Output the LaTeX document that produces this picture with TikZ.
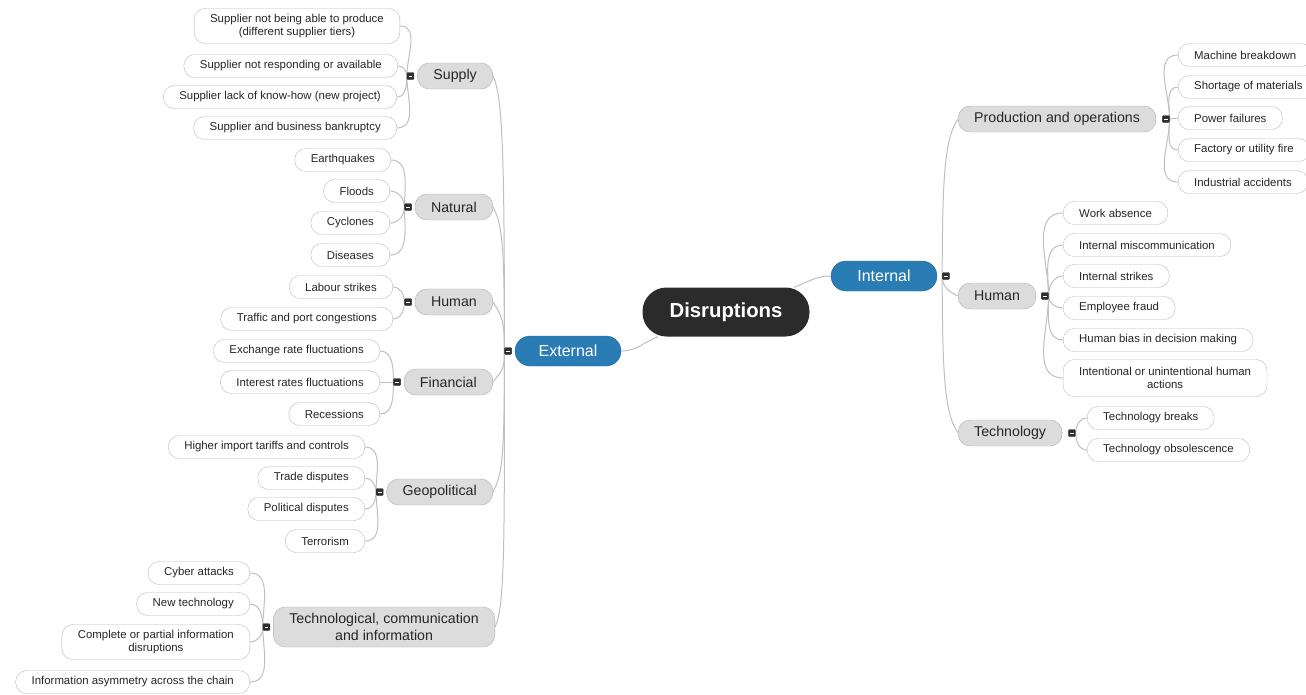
\documentclass[tikz,border=0pt]{standalone}
\usepackage{fontspec}
\setmainfont{Liberation Sans}
\usetikzlibrary{positioning,backgrounds}

\definecolor{rootgray}{HTML}{2B2B2B}
\definecolor{branchblue}{HTML}{2A7DB4}
\definecolor{topicgray}{HTML}{DCDCDC}
\definecolor{topicline}{HTML}{B0B0B0}
\definecolor{leafline}{HTML}{BABABA}
\definecolor{linkgray}{HTML}{BFBFBF}

\tikzset{
    root/.style={rectangle, rounded corners=24pt, fill=rootgray, text=white,
        font=\fontsize{20.3}{24}\selectfont\bfseries, minimum width=167pt, minimum height=49pt},
    branch/.style={rectangle, rounded corners=15pt, fill=branchblue, draw=branchblue!85!black,
        text=white, font=\fontsize{16}{19}\selectfont, minimum width=106pt, minimum height=30pt},
    topic/.style={rectangle, rounded corners=12pt, fill=topicgray, draw=topicline, text=black!85,
        font=\fontsize{14.2}{17}\selectfont, minimum height=26pt, inner xsep=16pt, align=center},
    leaf/.style={rectangle, rounded corners=11pt, fill=white, draw=leafline, text=black!85,
        font=\fontsize{11.4}{13.5}\selectfont, minimum height=23pt, inner xsep=16pt, inner ysep=2pt, align=center},
    handle/.style={rectangle, rounded corners=1pt, fill=black!82, draw=black!82, minimum size=7pt, inner sep=0pt,
        path picture={\draw[white, line width=0.6pt] ([xshift=-1.8pt]path picture bounding box.center) -- ([xshift=1.8pt]path picture bounding box.center);}},
    link/.style={draw=linkgray, line width=1pt},
}

\begin{document}
\begin{tikzpicture}[x=1pt, y=-1pt]
        \useasboundingbox (0,0) rectangle (1306,694);
        %\draw[color=lightgray] (0,0) grid[step=50] (1306,694);

        % centre and the two branches
        \node[root] (dis) at (726,312) {Disruptions};
        \node[branch] (ext) at (568,351) {External};
        \node[branch] (int) at (884,276) {Internal};
        \node[handle, left=3pt of ext] (ext-h) {};
        \node[handle, right=5pt of int] (int-h) {};

        % external topics
        \node[topic, anchor=east] (supply) at (493,76) {Supply};
        \node[topic, anchor=east] (natural) at (493,207) {Natural};
        \node[topic, anchor=east] (hum-ext) at (493,302) {Human};
        \node[topic, anchor=east] (financial) at (493,382) {Financial};
        \node[topic, anchor=east] (geo) at (493,492) {Geopolitical};
        \node[topic, anchor=east, minimum height=40pt] (tech-ext) at (495,627) {Technological, communication\\and information};
        \node[handle, left=3pt of supply] (supply-h) {};
        \node[handle, left=3pt of natural] (natural-h) {};
        \node[handle, left=3pt of hum-ext] (hum-ext-h) {};
        \node[handle, left=3pt of financial] (financial-h) {};
        \node[handle, left=3pt of geo] (geo-h) {};
        \node[handle, left=3pt of tech-ext] (tech-ext-h) {};

        % internal topics
        \node[topic, anchor=west] (prod) at (958,119) {Production and operations};
        \node[topic, anchor=west] (hum-int) at (958,296) {Human};
        \node[topic, anchor=west] (tech-int) at (958,433) {Technology};
        \node[handle, right=6pt of prod] (prod-h) {};
        \node[handle, right=5pt of hum-int] (hum-int-h) {};
        \node[handle, right=6pt of tech-int] (tech-int-h) {};

        % supply
        \node[leaf, anchor=east, minimum height=35pt] (sup1) at (400,26) {Supplier not being able to produce\\(different supplier tiers)};
        \node[leaf, anchor=east] (sup2) at (398,66) {Supplier not responding or available};
        \node[leaf, anchor=east] (sup3) at (397,97) {Supplier lack of know-how (new project)};
        \node[leaf, anchor=east] (sup4) at (397,128) {Supplier and business bankruptcy};
        % natural
        \node[leaf, anchor=east] (nat1) at (391,160) {Earthquakes};
        \node[leaf, anchor=east] (nat2) at (390,191) {Floods};
        \node[leaf, anchor=east] (nat3) at (390,223) {Cyclones};
        \node[leaf, anchor=east] (nat4) at (390,255) {Diseases};
        % human (external)
        \node[leaf, anchor=east] (hx1) at (393,287) {Labour strikes};
        \node[leaf, anchor=east] (hx2) at (393,319) {Traffic and port congestions};
        % financial
        \node[leaf, anchor=east] (fin1) at (380,351) {Exchange rate fluctuations};
        \node[leaf, anchor=east] (fin2) at (380,382) {Interest rates fluctuations};
        \node[leaf, anchor=east] (fin3) at (380,414) {Recessions};
        % geopolitical
        \node[leaf, anchor=east] (geo1) at (365,447) {Higher import tariffs and controls};
        \node[leaf, anchor=east] (geo2) at (365,478) {Trade disputes};
        \node[leaf, anchor=east] (geo3) at (365,509) {Political disputes};
        \node[leaf, anchor=east] (geo4) at (365,541) {Terrorism};
        % technological
        \node[leaf, anchor=east] (te1) at (250,573) {Cyber attacks};
        \node[leaf, anchor=east] (te2) at (250,604) {New technology};
        \node[leaf, anchor=east, minimum height=35pt] (te3) at (250,642) {Complete or partial information\\disruptions};
        \node[leaf, anchor=east] (te4) at (250,682) {Information asymmetry across the chain};

        % production and operations
        \node[leaf, anchor=west] (pr1) at (1178,55) {Machine breakdown};
        \node[leaf, anchor=west] (pr2) at (1178,87) {Shortage of materials};
        \node[leaf, anchor=west] (pr3) at (1178,118) {Power failures};
        \node[leaf, anchor=west] (pr4) at (1178,150) {Factory or utility fire};
        \node[leaf, anchor=west] (pr5) at (1178,182) {Industrial accidents};
        % human (internal)
        \node[leaf, anchor=west] (hi1) at (1063,213) {Work absence};
        \node[leaf, anchor=west] (hi2) at (1063,245) {Internal miscommunication};
        \node[leaf, anchor=west] (hi3) at (1063,276) {Internal strikes};
        \node[leaf, anchor=west] (hi4) at (1063,308) {Employee fraud};
        \node[leaf, anchor=west] (hi5) at (1063,340) {Human bias in decision making};
        \node[leaf, anchor=west, minimum height=37pt] (hi6) at (1063,378) {Intentional or unintentional human\\actions};
        % technology
        \node[leaf, anchor=west] (ti1) at (1087,418) {Technology breaks};
        \node[leaf, anchor=west] (ti2) at (1087,450) {Technology obsolescence};

        \begin{scope}[on background layer]
            \draw[link] (dis.200) to[out=200,in=0] (ext.east);
            \draw[link] (dis.20) to[out=20,in=180] (int.west);
            % spine left
            \draw[link] (ext-h.west) .. controls +(0,-190) and +(10,20) .. (supply.east);
            \draw[link] (ext-h.west) .. controls +(0,-100) and +(10,18) .. (natural.east);
            \draw[link] (ext-h.west) .. controls +(0,-30) and +(9,14) .. (hum-ext.east);
            \draw[link] (ext-h.west) .. controls +(0,20) and +(9,-12) .. (financial.east);
            \draw[link] (ext-h.west) .. controls +(0,100) and +(10,-18) .. (geo.east);
            \draw[link] (ext-h.west) .. controls +(0,190) and +(10,-20) .. (tech-ext.east);
            % spine right
            \draw[link] (int-h.west) .. controls +(0,-110) and +(-12,18) .. (prod.west);
            \draw[link] (int-h.west) .. controls +(0,12) and +(-8,-4) .. (hum-int.west);
            \draw[link] (int-h.west) .. controls +(0,110) and +(-12,-18) .. (tech-int.west);
            % leaves left
            \foreach \n in {sup1,sup2} \draw[link] (supply-h.west) to[out=90,in=0] (\n.east);
            \foreach \n in {sup3,sup4} \draw[link] (supply-h.west) to[out=-90,in=0] (\n.east);
            \foreach \n in {nat1,nat2} \draw[link] (natural-h.west) to[out=90,in=0] (\n.east);
            \foreach \n in {nat3,nat4} \draw[link] (natural-h.west) to[out=-90,in=0] (\n.east);
            \draw[link] (hum-ext-h.west) to[out=90,in=0] (hx1.east);
            \draw[link] (hum-ext-h.west) to[out=-90,in=0] (hx2.east);
            \draw[link] (financial-h.west) to[out=90,in=0] (fin1.east);
            \draw[link] (financial-h.west) -- (fin2.east);
            \draw[link] (financial-h.west) to[out=-90,in=0] (fin3.east);
            \foreach \n in {geo1,geo2} \draw[link] (geo-h.west) to[out=90,in=0] (\n.east);
            \foreach \n in {geo3,geo4} \draw[link] (geo-h.west) to[out=-90,in=0] (\n.east);
            \foreach \n in {te1,te2} \draw[link] (tech-ext-h.west) to[out=90,in=0] (\n.east);
            \foreach \n in {te3,te4} \draw[link] (tech-ext-h.west) to[out=-90,in=0] (\n.east);
            % leaves right
            \foreach \n in {pr1,pr2} \draw[link] (prod-h.east) to[out=90,in=180] (\n.west);
            \draw[link] (prod-h.east) -- (pr3.west);
            \foreach \n in {pr4,pr5} \draw[link] (prod-h.east) to[out=-90,in=180] (\n.west);
            \foreach \n in {hi1,hi2,hi3} \draw[link] (hum-int-h.east) to[out=90,in=180] (\n.west);
            \foreach \n in {hi4,hi5,hi6} \draw[link] (hum-int-h.east) to[out=-90,in=180] (\n.west);
            \draw[link] (tech-int-h.east) to[out=90,in=180] (ti1.west);
            \draw[link] (tech-int-h.east) to[out=-90,in=180] (ti2.west);
        \end{scope}
\end{tikzpicture}
\end{document}
